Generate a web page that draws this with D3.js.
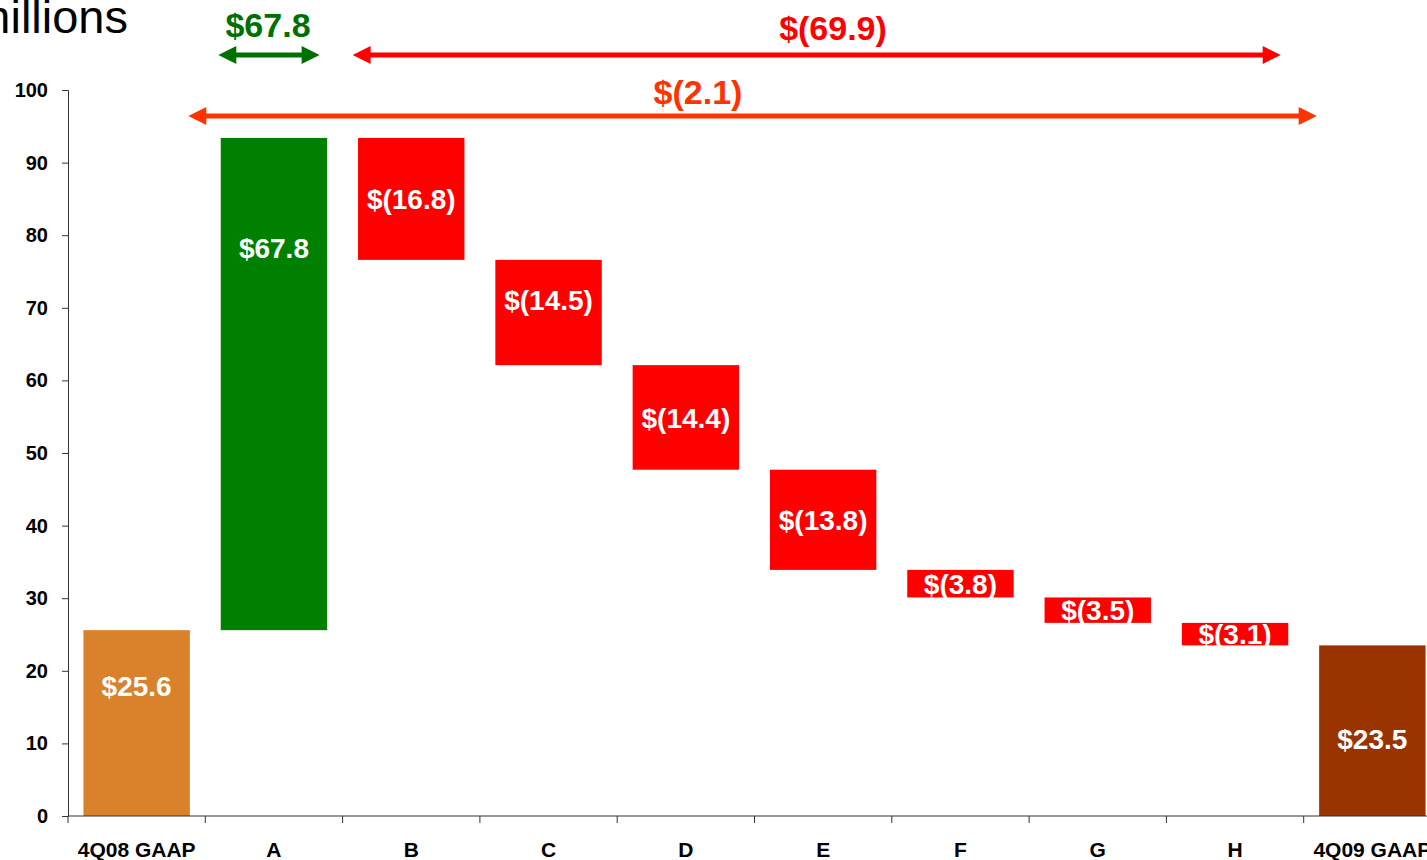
<!DOCTYPE html>
<html>
<head>
<meta charset="utf-8">
<script src="https://cdn.jsdelivr.net/npm/d3@7"></script>
<style>
  html, body { margin: 0; padding: 0; background: #fff; overflow: hidden; }
  svg { display: block; font-family: Arial, "Liberation Sans", sans-serif; }
</style>
</head>
<body>
<div id="chart"></div>
<script>
// waterfall data ($ millions)
const categories = ['4Q08 GAAP', 'A', 'B', 'C', 'D', 'E', 'F', 'G', 'H', '4Q09 GAAP'];
const startValue = 25.6;
const changes = [67.8, -16.8, -14.5, -14.4, -13.8, -3.8, -3.5, -3.1];
const yTicks = [0, 10, 20, 30, 40, 50, 60, 70, 80, 90, 100];

const width = 1427, height = 860;
const margin = { left: 68, top: 90, bottom: 44 };

const svg = d3.select('#chart').append('svg')
  .attr('width', width)
  .attr('height', height);

// build the steps
let running = startValue;
const steps = [{ name: categories[0], y0: 0, y1: startValue, value: startValue, kind: 'start' }];
changes.forEach((c, i) => {
  const next = +(running + c).toFixed(1);
  steps.push({ name: categories[i + 1], y0: running, y1: next, value: c, kind: c >= 0 ? 'up' : 'down' });
  running = next;
});
steps.push({ name: categories[categories.length - 1], y0: 0, y1: running, value: running, kind: 'end' });

const x = d3.scaleBand()
  .domain(categories)
  .range([margin.left, margin.left + 137.3 * categories.length])
  .paddingInner(0.225)
  .paddingOuter(0.1125);

const y = d3.scaleLinear()
  .domain([0, 100])
  .range([height - margin.bottom, margin.top]);

const colors = { start: '#D9822B', up: '#008000', down: '#FF0000', end: '#993300' };

// bars
svg.append('g').selectAll('rect')
  .data(steps)
  .join('rect')
  .attr('x', d => x(d.name))
  .attr('width', x.bandwidth())
  .attr('y', d => y(Math.max(d.y0, d.y1)))
  .attr('height', d => Math.abs(y(d.y0) - y(d.y1)))
  .attr('fill', d => colors[d.kind]);

// labels inside bars
const fmt = v => v < 0 ? '$(' + Math.abs(v).toFixed(1) + ')' : '$' + v.toFixed(1);
// a few labels sit off-centre in the original
const labelShift = { '4Q08 GAAP': 37, 'A': 136, '4Q09 GAAP': -8, 'C': 13 };
svg.append('g').selectAll('text')
  .data(steps)
  .join('text')
  .attr('x', d => x(d.name) + x.bandwidth() / 2)
  .attr('y', d => (y(d.y0) + y(d.y1)) / 2 - (labelShift[d.name] || 0))
  .attr('dy', '0.36em')
  .attr('text-anchor', 'middle')
  .attr('fill', '#fff')
  .attr('font-weight', 'bold')
  .attr('font-size', 28)
  .text(d => fmt(d.value));

// y axis
const yAxis = svg.append('g')
  .attr('transform', `translate(${margin.left},0)`)
  .call(d3.axisLeft(y).tickValues(yTicks).tickSize(6).tickPadding(14).tickFormat(d3.format('d')));
yAxis.select('.domain').attr('stroke', '#333');
yAxis.selectAll('.tick line').attr('stroke', '#333');
yAxis.selectAll('text')
  .attr('font-size', 20)
  .attr('font-weight', 'bold')
  .attr('fill', '#000')
  .attr('font-family', 'Arial, "Liberation Sans", sans-serif');

// x axis with ticks on band edges
const xg = svg.append('g')
  .attr('transform', `translate(0,${y(0)})`);
xg.append('line')
  .attr('x1', margin.left).attr('x2', width)
  .attr('stroke', '#333');
xg.selectAll('.edge')
  .data(categories)
  .join('line')
  .attr('class', 'edge')
  .attr('x1', d => x(d) - x.step() * x.paddingInner() / 2)
  .attr('x2', d => x(d) - x.step() * x.paddingInner() / 2)
  .attr('y2', 7)
  .attr('stroke', '#333');
xg.selectAll('text')
  .data(categories)
  .join('text')
  .attr('x', d => x(d) + x.bandwidth() / 2)
  .attr('y', 41)
  .attr('text-anchor', 'middle')
  .attr('font-size', 21)
  .attr('font-weight', 'bold')
  .text(d => d);

// units title, cut at the left edge like the source slide
svg.append('text')
  .attr('x', 128)
  .attr('y', 33)
  .attr('text-anchor', 'end')
  .attr('font-size', 47)
  .text('$ in millions');

// bracket arrows on top
const upSum = d3.sum(changes.filter(c => c > 0));
const downSum = d3.sum(changes.filter(c => c < 0));
const net = running - startValue;
const edgeL = c => x(c) - x.step() * x.paddingInner() / 2;
const edgeR = c => edgeL(c) + x.step();
const arrows = [
  { from: edgeL('A') + 13, to: edgeR('A') - 23, y: 55, ty: 25, value: upSum, color: '#007000', tx: 268 },
  { from: edgeL('B') + 10, to: edgeR('H') - 23, y: 55, ty: 28, value: downSum, color: '#FF0000', tx: 833 },
  { from: edgeL('A') - 17, to: edgeL('4Q09 GAAP') + 13, y: 116, ty: 92, value: net, color: '#FF3300', tx: 698 }
];
const head = 18;
arrows.forEach(a => {
  const g = svg.append('g');
  g.append('line')
    .attr('x1', a.from + head - 2).attr('x2', a.to - head + 2)
    .attr('y1', a.y).attr('y2', a.y)
    .attr('stroke', a.color)
    .attr('stroke-width', 5);
  g.append('path')
    .attr('d', `M${a.from},${a.y} L${a.from + head},${a.y - 9} L${a.from + head},${a.y + 9} Z`)
    .attr('fill', a.color);
  g.append('path')
    .attr('d', `M${a.to},${a.y} L${a.to - head},${a.y - 9} L${a.to - head},${a.y + 9} Z`)
    .attr('fill', a.color);
  g.append('text')
    .attr('x', a.tx)
    .attr('y', a.ty)
    .attr('dy', '0.36em')
    .attr('text-anchor', 'middle')
    .attr('fill', a.color)
    .attr('font-size', 34)
    .attr('font-weight', 'bold')
    .text(fmt(+a.value.toFixed(1)));
});
</script>
</body>
</html>
